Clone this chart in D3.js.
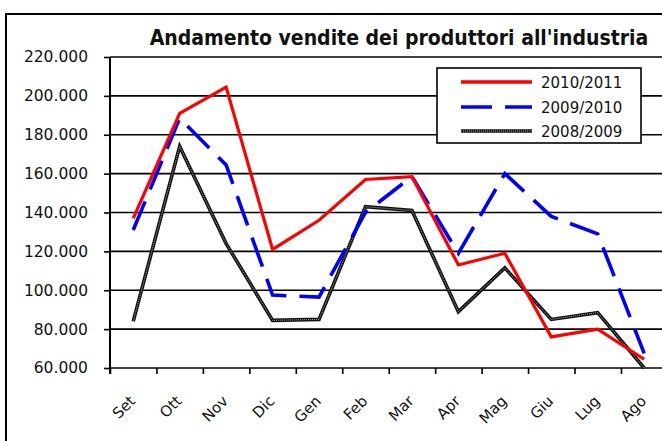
<!DOCTYPE html>
<html>
<head>
    <style>
        body { margin: 0; background: white; }
        text { font-family: "DejaVu Sans", Verdana, sans-serif; fill: #111; }
        .title { font-family: "DejaVu Sans Condensed", "DejaVu Sans", sans-serif; font-weight: bold; font-stretch: condensed; }
    </style>
    <script src="https://d3js.org/d3.v7.min.js"></script>
</head>
<body>
<svg id="chart" width="662" height="441"></svg>
<script>
    // months of the season
    var months = ["Set", "Ott", "Nov", "Dic", "Gen", "Feb", "Mar", "Apr", "Mag", "Giu", "Lug", "Ago"];
    // sales, thousands
    var s2010 = [137, 191, 204.5, 121, 136, 157, 158.5, 113, 119, 76, 80, 64.5];
    var s2009 = [131, 188.5, 164.5, 97.5, 96.5, 140, 158.5, 119, 160, 138, 129, 67.5];
    var s2008 = [84, 174, 124, 84.5, 85, 143, 141, 89, 111.5, 85, 88.5, 60];
    var seriesNames = ["2010/2011", "2009/2010", "2008/2009"];
    var yTicks = [60, 80, 100, 120, 140, 160, 180, 200, 220];

    var svg = d3.select("#chart");

    // outer frame (goes off the right and bottom edge)
    svg.append("rect").attr("x", 6).attr("y", 14).attr("width", 700).attr("height", 460)
        .attr("fill", "none").attr("stroke", "#000").attr("stroke-width", 2);

    svg.append("text").attr("class", "title")
        .attr("x", 399).attr("y", 45)
        .attr("text-anchor", "middle")
        .style("font-size", "21px")
        .text("Andamento vendite dei produttori all'industria");

    var left = 110, step = 46.45;
    var x = d3.scaleBand().domain(months).range([left, left + step * months.length]);
    var y = d3.scaleLinear().domain([60, 220]).range([368, 57]);
    var cx = function (i) { return x(months[i]) + x.bandwidth() / 2; };

    // grid
    svg.append("g").selectAll("line").data(yTicks).join("line")
        .attr("x1", left).attr("x2", 700)
        .attr("y1", d => y(d)).attr("y2", d => y(d))
        .attr("stroke", "#000").attr("stroke-width", 1.6);

    // y axis
    var yAxis = svg.append("g").attr("transform", "translate(" + left + ",0)")
        .call(d3.axisLeft(y).tickValues(yTicks).tickSize(6).tickPadding(16)
            .tickFormat(d => d3.format(",.3f")(d).replace(/,/g, "")));
    yAxis.select(".domain").attr("stroke-width", 2).attr("d", "M0,57V374");
    yAxis.selectAll(".tick line").attr("stroke-width", 1.6);
    yAxis.selectAll("text").style("font-size", "15.5px").style("font-family", "DejaVu Sans");

    // x axis: ticks on category boundaries
    var xb = d3.scaleLinear().domain([0, months.length]).range([left, left + step * months.length]);
    var xAxis = svg.append("g").attr("transform", "translate(0,368)")
        .call(d3.axisBottom(xb).tickValues(d3.range(months.length + 1)).tickSize(6).tickFormat(""));
    xAxis.select(".domain").remove();
    xAxis.selectAll(".tick line").attr("stroke-width", 1.6);

    svg.append("g").selectAll("text").data(months).join("text")
        .attr("text-anchor", "end")
        .attr("transform", (d, i) => "translate(" + (cx(i) + 3) + ",402) rotate(-45)")
        .style("font-size", "15px")
        .text(d => d);

    var line = d3.line().x((d, i) => cx(i)).y(d => y(d));

    var g = svg.append("g");
    // 2008/2009: dark line with a light speckle inside
    g.append("path").datum(s2008).attr("d", line).attr("fill", "none")
        .attr("stroke", "#111").attr("stroke-width", 3.6).attr("stroke-linejoin", "miter");
    g.append("path").datum(s2008).attr("d", line).attr("fill", "none")
        .attr("stroke", "#aaa").attr("stroke-width", 1).attr("stroke-dasharray", "1,1");
    g.append("path").datum(s2009).attr("d", line).attr("fill", "none")
        .attr("stroke", "#0000ff").attr("stroke-width", 3.6).attr("stroke-dasharray", "31,13");
    g.append("path").datum(s2010).attr("d", line).attr("fill", "none")
        .attr("stroke", "#ff0000").attr("stroke-width", 3.2);

    // legend
    var lg = svg.append("g");
    lg.append("rect").attr("x", 437).attr("y", 68).attr("width", 204).attr("height", 75)
        .attr("fill", "white").attr("stroke", "#000").attr("stroke-width", 1.6);
    var rows = [82, 107, 131];
    var styles = [
        {stroke: "#ff0000", dash: null},
        {stroke: "#0000ff", dash: "31,13"},
        {stroke: "#111", dash: null}
    ];
    seriesNames.forEach(function (n, i) {
        lg.append("line").attr("x1", 461).attr("x2", 532).attr("y1", rows[i]).attr("y2", rows[i])
            .attr("stroke", styles[i].stroke).attr("stroke-width", 3.4)
            .attr("stroke-dasharray", styles[i].dash);
        if (i === 2) {
            lg.append("line").attr("x1", 461).attr("x2", 532).attr("y1", rows[i]).attr("y2", rows[i])
                .attr("stroke", "#aaa").attr("stroke-width", 1).attr("stroke-dasharray", "1,1");
        }
        lg.append("text").attr("x", 541).attr("y", rows[i] + 5.5).style("font-size", "15px").text(n);
    });
</script>
</body>
</html>
